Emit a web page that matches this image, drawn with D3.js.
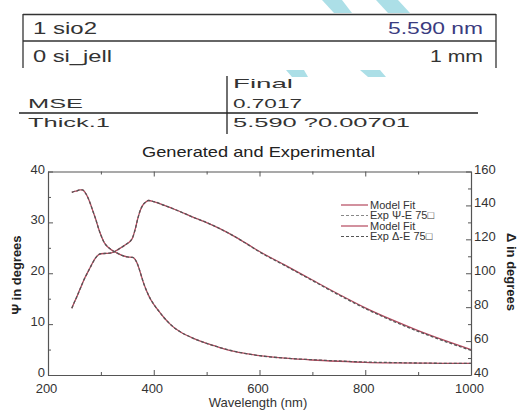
<!DOCTYPE html>
<html>
<head>
<meta charset="utf-8">
<script src="https://cdn.jsdelivr.net/npm/d3@7"></script>
<style>
  html, body { margin: 0; padding: 0; background: #fff; }
  svg { display: block; font-family: "Liberation Sans", Arial, sans-serif; }
</style>
</head>
<body>
<svg id="chart" width="520" height="410"></svg>
<script>
// Layer stack shown above the plot
const layerNames = ["1 sio2", "0 si_jell"];
const layerThick = ["5.590 nm", "1 mm"];

// Fit result table
const fitRowLabels = ["MSE", "Thick.1"];
const fitRowValues = ["0.7017", "5.590 ?0.00701"];
const fitColumnHead = "Final";

// Spectra: wavelength (nm), Psi (deg, left axis), Delta (deg, right axis)
const psiWave = [245, 250, 255, 260, 265, 270, 275, 280, 285, 290, 295, 300, 305, 310, 315, 320, 330, 340, 350, 360, 365, 370, 375, 380, 385, 390, 395, 400, 410, 420, 430, 440, 450, 475, 500, 525, 550, 575, 600, 650, 700, 750, 800, 850, 900, 950, 1000];
const psiModel = [35.9, 36.1, 36.2, 36.4, 36.4, 35.9, 35.0, 33.7, 32.2, 30.7, 29.0, 27.5, 26.3, 25.5, 25.0, 24.6, 24.0, 23.5, 23.2, 23.1, 22.7, 21.6, 20.0, 18.3, 16.9, 15.7, 14.7, 13.9, 12.5, 11.2, 10.1, 9.2, 8.5, 7.2, 6.2, 5.4, 4.7, 4.2, 3.8, 3.3, 2.95, 2.7, 2.5, 2.4, 2.35, 2.3, 2.3];
const psiExp   = [35.9, 36.1, 36.2, 36.4, 36.4, 35.9, 35.0, 33.7, 32.2, 30.7, 29.0, 27.5, 26.3, 25.5, 25.0, 24.6, 24.0, 23.5, 23.2, 23.1, 22.7, 21.6, 20.0, 18.3, 16.9, 15.7, 14.7, 13.9, 12.5, 11.2, 10.1, 9.2, 8.5, 7.2, 6.2, 5.4, 4.7, 4.2, 3.8, 3.3, 3.0, 2.75, 2.55, 2.45, 2.35, 2.3, 2.3];

const deltaWave = [245, 250, 255, 260, 265, 270, 275, 280, 285, 290, 295, 300, 310, 320, 330, 340, 350, 355, 360, 365, 370, 375, 380, 385, 390, 400, 420, 440, 460, 480, 500, 525, 550, 575, 600, 650, 700, 750, 800, 850, 900, 950, 1000];
const deltaModel = [79.4, 83.0, 86.5, 90.2, 94.0, 97.5, 100.5, 103.5, 106.5, 109.0, 110.8, 111.5, 111.7, 112.0, 113.5, 115.5, 117.5, 118.7, 121.0, 126.0, 132.5, 137.5, 140.5, 142.0, 142.9, 142.3, 140.0, 137.6, 135.0, 132.3, 129.9, 126.3, 122.2, 117.6, 112.8, 104.5, 96.0, 87.6, 79.6, 72.6, 66.2, 60.4, 55.0];
const deltaExp   = [79.4, 83.0, 86.5, 90.2, 94.0, 97.5, 100.5, 103.5, 106.5, 109.0, 110.8, 111.5, 111.7, 112.0, 113.5, 115.5, 117.5, 118.7, 121.0, 126.0, 132.5, 137.5, 140.5, 142.0, 142.9, 142.3, 140.0, 137.6, 135.0, 132.3, 129.9, 126.3, 122.2, 117.5, 112.6, 104.2, 95.7, 87.2, 79.2, 72.1, 65.7, 59.9, 54.5];

// Axis ticks
const xTicks = [200, 400, 600, 800, 1000];
const xMinor = [300, 500, 700, 900];
const psiTicks = [0, 10, 20, 30, 40];
const psiMinor = [5, 15, 25, 35];
const deltaTicks = [40, 60, 80, 100, 120, 140, 160];
const deltaMinor = [50, 70, 90, 110, 130, 150];

const legendLabels = ["Model Fit", "Exp \u03A8-E 75\u25A1", "Model Fit", "Exp \u0394-E 75\u25A1"];

const svg = d3.select("#chart");
const RED = "#b5485e";
const DASH = "#555";
const INK = "#333";

// faint cyan background shapes
const cyan = "#acdfe7";
[
  [[322, 0], [342, 0], [352, 13], [334, 13]],
  [[376, 0], [398, 0], [410, 13], [388, 13]],
  [[286, 70], [304, 70], [308, 77], [292, 77]],
  [[360, 70], [380, 70], [386, 77], [368, 77]]
].forEach(p => svg.append("polygon").attr("points", p.join(" ")).attr("fill", cyan));

// ---- layer stack box ----
const box = svg.append("g").attr("stroke", "#333").attr("stroke-width", 1.3).attr("fill", "none");
box.append("line").attr("x1", 23).attr("x2", 496).attr("y1", 14.5).attr("y2", 14.5);
box.append("line").attr("x1", 23).attr("x2", 496).attr("y1", 41).attr("y2", 41);
box.append("line").attr("x1", 23).attr("x2", 23).attr("y1", 14).attr("y2", 68);
box.append("line").attr("x1", 496).attr("x2", 496).attr("y1", 14).attr("y2", 68);

const rowBase = [34, 62];
const nameLen = [64, 79];
const thickLen = [95, 53];
layerNames.forEach((t, i) => {
  svg.append("text").attr("x", 33).attr("y", rowBase[i]).attr("font-size", 16)
    .attr("fill", INK).attr("textLength", nameLen[i]).attr("lengthAdjust", "spacingAndGlyphs").text(t);
  svg.append("text").attr("x", 483 - thickLen[i]).attr("y", rowBase[i]).attr("font-size", 16)
    .attr("fill", i === 0 ? "#3b3b80" : INK).attr("textLength", thickLen[i]).attr("lengthAdjust", "spacingAndGlyphs").text(layerThick[i]);
});

// ---- fit result table ----
svg.append("line").attr("x1", 227).attr("x2", 227).attr("y1", 76).attr("y2", 134).attr("stroke", "#222").attr("stroke-width", 1.3);
svg.append("line").attr("x1", 19).attr("x2", 478).attr("y1", 113).attr("y2", 113).attr("stroke", "#222").attr("stroke-width", 1.3);
svg.append("text").attr("x", 233).attr("y", 88).attr("font-size", 13).attr("fill", INK)
  .attr("textLength", 60).attr("lengthAdjust", "spacingAndGlyphs").text(fitColumnHead);
const fitBase = [108, 127];
const labelLen = [55, 82];
const valueLen = [69, 177];
fitRowLabels.forEach((t, i) => {
  svg.append("text").attr("x", 28).attr("y", fitBase[i]).attr("font-size", 13).attr("fill", INK)
    .attr("textLength", labelLen[i]).attr("lengthAdjust", "spacingAndGlyphs").text(t);
  svg.append("text").attr("x", 233).attr("y", fitBase[i]).attr("font-size", 13).attr("fill", INK)
    .attr("textLength", valueLen[i]).attr("lengthAdjust", "spacingAndGlyphs").text(fitRowValues[i]);
});

// ---- chart ----
const L = 48, R = 471, T = 171.5, B = 375;
const x = d3.scaleLinear().domain([200, 1000]).range([L, R]);
const yPsi = d3.scaleLinear().domain([0, 40]).range([B, T]);
const yDelta = d3.scaleLinear().domain([40, 160]).range([B, T]);
const fmt = d3.format("d");

svg.append("text").attr("x", 142).attr("y", 157).attr("font-size", 15).attr("fill", "#222")
  .attr("textLength", 233).attr("lengthAdjust", "spacingAndGlyphs").text("Generated and Experimental");

function styleAxis(g) {
  g.selectAll("path").attr("stroke", "#555").attr("stroke-width", 1.2);
  g.selectAll("line").attr("stroke", "#555").attr("stroke-width", 1);
  g.selectAll("text").attr("fill", INK).attr("font-size", 13)
    .attr("font-family", "'Liberation Sans', Arial, sans-serif");
}

// bottom axis with labels, inward ticks
const gx = svg.append("g").attr("transform", `translate(0,${B})`)
  .call(d3.axisBottom(x).tickValues(xTicks).tickFormat(fmt).tickSize(-5).tickPadding(9).tickSizeOuter(0));
styleAxis(gx);
gx.selectAll("text").attr("dx", -2);
svg.append("g").attr("transform", `translate(0,${B})`)
  .call(d3.axisBottom(x).tickValues(xMinor).tickSize(-3).tickFormat("").tickSizeOuter(0))
  .call(styleAxis).select("path").remove();

// top axis, ticks only
const gxt = svg.append("g").attr("transform", `translate(0,${T})`)
  .call(d3.axisTop(x).tickValues(xTicks).tickSize(-5).tickFormat("").tickSizeOuter(0));
styleAxis(gxt);
svg.append("g").attr("transform", `translate(0,${T})`)
  .call(d3.axisTop(x).tickValues(xMinor).tickSize(-3).tickFormat("").tickSizeOuter(0))
  .call(styleAxis).select("path").remove();

// left axis (Psi)
const gl = svg.append("g").attr("transform", `translate(${L},0)`)
  .call(d3.axisLeft(yPsi).tickValues(psiTicks).tickFormat(fmt).tickSize(-5).tickPadding(3).tickSizeOuter(0));
styleAxis(gl);
gl.selectAll("text").attr("dy", "0.12em");
svg.append("g").attr("transform", `translate(${L},0)`)
  .call(d3.axisLeft(yPsi).tickValues(psiMinor).tickSize(-3).tickFormat("").tickSizeOuter(0))
  .call(styleAxis).select("path").remove();

// right axis (Delta)
const gr = svg.append("g").attr("transform", `translate(${R},0)`)
  .call(d3.axisRight(yDelta).tickValues(deltaTicks).tickFormat(fmt).tickSize(-5).tickPadding(3).tickSizeOuter(0));
styleAxis(gr);
gr.selectAll("text").attr("dy", "0.12em");
svg.append("g").attr("transform", `translate(${R},0)`)
  .call(d3.axisRight(yDelta).tickValues(deltaMinor).tickSize(-3).tickFormat("").tickSizeOuter(0))
  .call(styleAxis).select("path").remove();

// axis titles
svg.append("text").attr("x", 258).attr("y", 407).attr("text-anchor", "middle")
  .attr("font-size", 13).attr("fill", INK).text("Wavelength (nm)");
svg.append("text").attr("transform", "translate(21,275) rotate(-90)").attr("text-anchor", "middle")
  .attr("font-size", 13).attr("font-weight", "bold").attr("fill", "#222").text("\u03A8 in degrees");
svg.append("text").attr("transform", "translate(507,272) rotate(90)").attr("text-anchor", "middle")
  .attr("font-size", 13).attr("font-weight", "bold").attr("fill", "#222").text("\u0394 in degrees");

// curves
const psiLine = (vals) => d3.line().curve(d3.curveMonotoneX)
  .x((d, i) => x(psiWave[i])).y(d => yPsi(d))(vals);
const deltaLine = (vals) => d3.line().curve(d3.curveMonotoneX)
  .x((d, i) => x(deltaWave[i])).y(d => yDelta(d))(vals);

const curves = svg.append("g").attr("fill", "none");
curves.append("path").attr("d", deltaLine(deltaModel)).attr("stroke", RED).attr("stroke-width", 1.3);
curves.append("path").attr("d", psiLine(psiModel)).attr("stroke", RED).attr("stroke-width", 1.3);
curves.append("path").attr("d", deltaLine(deltaExp)).attr("stroke", DASH).attr("stroke-width", 1.3).attr("stroke-dasharray", "3,2");
curves.append("path").attr("d", psiLine(psiExp)).attr("stroke", DASH).attr("stroke-width", 1.3).attr("stroke-dasharray", "3,2");

// legend
const legY = [205, 215.5, 226, 236.5];
legendLabels.forEach((t, i) => {
  const dashed = i % 2 === 1;
  svg.append("line").attr("x1", 341).attr("x2", 368).attr("y1", legY[i]).attr("y2", legY[i])
    .attr("stroke", dashed ? (i === 1 ? "#888" : "#555") : RED).attr("stroke-width", 1.2)
    .attr("stroke-dasharray", dashed ? "3,2" : null);
  svg.append("text").attr("x", 370).attr("y", legY[i]).attr("dy", "0.35em")
    .attr("font-size", 11).attr("fill", INK).text(t);
});
</script>
</body>
</html>
